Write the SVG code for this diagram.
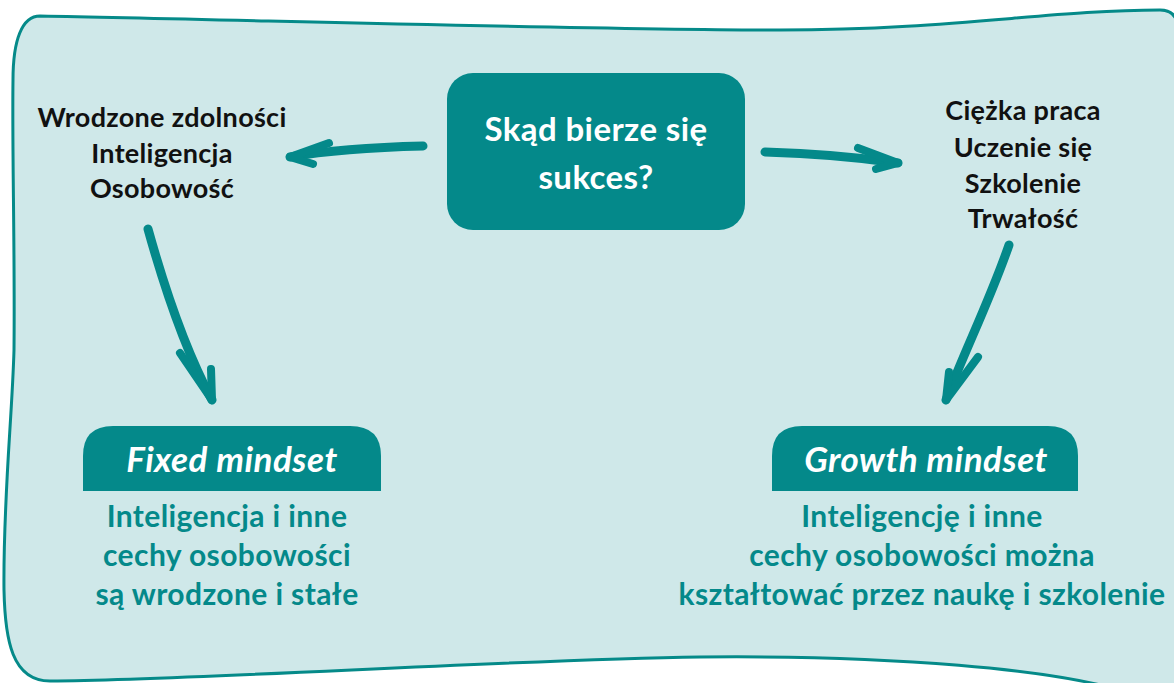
<svg xmlns="http://www.w3.org/2000/svg" width="1174" height="683" viewBox="0 0 1174 683">
  <style>
    .panel { fill: #cfe8e9; stroke: #058a89; stroke-width: 3; }
    .box { fill: #04898a; }
    .t { font-family: Lato, "Open Sans", "Liberation Sans", sans-serif; font-weight: 700; text-anchor: middle; }
    .white { fill: #ffffff; }
    .black { fill: #111111; }
    .teal { fill: #04898a; }
    .title { font-size: 33px; letter-spacing: 0.4px; }
    .list { font-size: 27px; letter-spacing: 0.3px; }
    .head { font-size: 35px; font-style: italic; letter-spacing: 0.5px; }
    .body { font-size: 30px; letter-spacing: 0.4px; }
    .shaft { fill: none; stroke: #04898a; stroke-width: 9; stroke-linecap: round; stroke-linejoin: round; }
    .barb { fill: none; stroke: #04898a; stroke-width: 8; stroke-linecap: round; stroke-linejoin: round; }
  </style>

  <!-- wavy background card -->
  <path class="panel" d="M 40 16 C 250 20, 600 30, 780 30 C 950 30, 1050 10, 1160 10 Q 1178 10 1178 30 L 1178 690 L 1120 690 C 1050 670, 900 655, 700 657 C 500 660, 200 680, 50 681 C 12 681, 5 640, 4 590 C 3 500, 12 420, 14 350 C 15 250, 12 150, 13 80 C 13 40, 22 16, 40 16 Z"/>

  <!-- central question -->
  <g id="question">
    <rect class="box" x="447" y="73" width="298" height="157" rx="26"/>
    <text class="t white title" x="596" y="141">Skąd bierze się</text>
    <text class="t white title" x="596" y="189">sukces?</text>
  </g>

  <!-- innate traits -->
  <g id="innate">
    <text class="t black list" x="162" y="127">Wrodzone zdolności</text>
    <text class="t black list" x="162" y="163">Inteligencja</text>
    <text class="t black list" x="162" y="198">Osobowość</text>
  </g>

  <!-- effort factors -->
  <g id="effort">
    <text class="t black list" x="1023" y="120">Ciężka praca</text>
    <text class="t black list" x="1023" y="157">Uczenie się</text>
    <text class="t black list" x="1023" y="193">Szkolenie</text>
    <text class="t black list" x="1023" y="228">Trwałość</text>
  </g>

  <!-- fixed mindset -->
  <g id="fixed">
    <path class="box" d="M 83 491 L 83 456 Q 83 426 113 426 L 350 426 Q 381 426 381 456 L 381 491 Z"/>
    <text class="t white head" x="232" y="472">Fixed mindset</text>
    <text class="t teal body" x="227" y="527">Inteligencja i inne</text>
    <text class="t teal body" x="227" y="566">cechy osobowości</text>
    <text class="t teal body" x="227" y="605">są wrodzone i stałe</text>
  </g>

  <!-- growth mindset -->
  <g id="growth">
    <path class="box" d="M 772 491 L 772 456 Q 772 426 802 426 L 1048 426 Q 1078 426 1078 456 L 1078 491 Z"/>
    <text class="t white head" x="926" y="472">Growth mindset</text>
    <text class="t teal body" x="922" y="527">Inteligencję i inne</text>
    <text class="t teal body" x="922" y="566">cechy osobowości można</text>
    <text class="t teal body" x="922" y="605">kształtować przez naukę i szkolenie</text>
  </g>

  <!-- brush-stroke connectors -->
  <g id="connectors">
    <!-- question to innate -->
    <path class="shaft" d="M 423 146 C 380 147, 330 150, 290 157"/>
    <path class="barb" d="M 329 143 L 290 157 L 313 164"/>
    <!-- question to effort -->
    <path class="shaft" d="M 765 152 C 800 153, 850 156, 898 163"/>
    <path class="barb" d="M 858 148 L 898 163 L 876 169"/>
    <!-- innate to fixed -->
    <path class="shaft" d="M 148 229 C 165 290, 185 350, 212 400"/>
    <path class="barb" d="M 180 353 L 212 400 L 211 369"/>
    <!-- effort to growth -->
    <path class="shaft" d="M 1009 245 C 990 300, 965 350, 946 400"/>
    <path class="barb" d="M 978 357 L 946 400 L 949 372"/>
  </g>
</svg>
